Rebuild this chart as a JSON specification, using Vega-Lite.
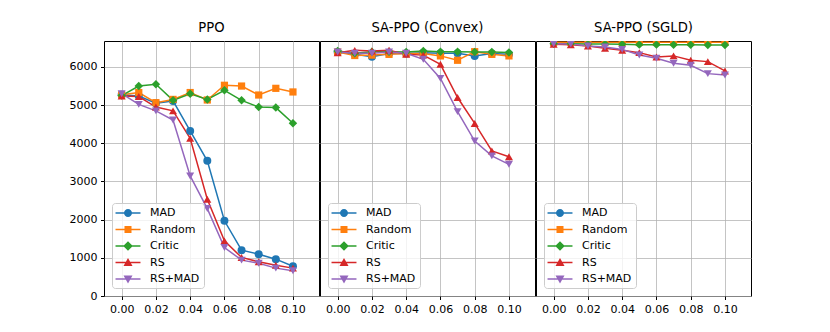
{
  "$schema": "https://vega.github.io/schema/vega-lite/v6.json",
  "padding": {"left": 68, "top": 20, "right": 5, "bottom": 5},
  "background": "white",
  "datasets": {
    "ppo": [
      {"s":"MAD","x":0,"y":5270},{"s":"MAD","x":0.01,"y":5240},{"s":"MAD","x":0.02,"y":5050},{"s":"MAD","x":0.03,"y":5110},{"s":"MAD","x":0.04,"y":4325},{"s":"MAD","x":0.05,"y":3540},{"s":"MAD","x":0.06,"y":1970},{"s":"MAD","x":0.07,"y":1200},{"s":"MAD","x":0.08,"y":1095},{"s":"MAD","x":0.09,"y":965},{"s":"MAD","x":0.1,"y":780},
      {"s":"Random","x":0,"y":5270},{"s":"Random","x":0.01,"y":5330},{"s":"Random","x":0.02,"y":5065},{"s":"Random","x":0.03,"y":5150},{"s":"Random","x":0.04,"y":5330},{"s":"Random","x":0.05,"y":5135},{"s":"Random","x":0.06,"y":5520},{"s":"Random","x":0.07,"y":5500},{"s":"Random","x":0.08,"y":5265},{"s":"Random","x":0.09,"y":5440},{"s":"Random","x":0.1,"y":5345},
      {"s":"Critic","x":0,"y":5250},{"s":"Critic","x":0.01,"y":5500},{"s":"Critic","x":0.02,"y":5545},{"s":"Critic","x":0.03,"y":5125},{"s":"Critic","x":0.04,"y":5300},{"s":"Critic","x":0.05,"y":5150},{"s":"Critic","x":0.06,"y":5390},{"s":"Critic","x":0.07,"y":5125},{"s":"Critic","x":0.08,"y":4950},{"s":"Critic","x":0.09,"y":4935},{"s":"Critic","x":0.1,"y":4525},
      {"s":"RS","x":0,"y":5240},{"s":"RS","x":0.01,"y":5225},{"s":"RS","x":0.02,"y":4950},{"s":"RS","x":0.03,"y":4850},{"s":"RS","x":0.04,"y":4130},{"s":"RS","x":0.05,"y":2535},{"s":"RS","x":0.06,"y":1445},{"s":"RS","x":0.07,"y":1010},{"s":"RS","x":0.08,"y":895},{"s":"RS","x":0.09,"y":805},{"s":"RS","x":0.1,"y":730},
      {"s":"RS+MAD","x":0,"y":5300},{"s":"RS+MAD","x":0.01,"y":5020},{"s":"RS+MAD","x":0.02,"y":4850},{"s":"RS+MAD","x":0.03,"y":4610},{"s":"RS+MAD","x":0.04,"y":3145},{"s":"RS+MAD","x":0.05,"y":2290},{"s":"RS+MAD","x":0.06,"y":1270},{"s":"RS+MAD","x":0.07,"y":940},{"s":"RS+MAD","x":0.08,"y":860},{"s":"RS+MAD","x":0.09,"y":730},{"s":"RS+MAD","x":0.1,"y":660}
    ],
    "convex": [
      {"s":"MAD","x":0,"y":6390},{"s":"MAD","x":0.01,"y":6330},{"s":"MAD","x":0.02,"y":6270},{"s":"MAD","x":0.03,"y":6350},{"s":"MAD","x":0.04,"y":6350},{"s":"MAD","x":0.05,"y":6370},{"s":"MAD","x":0.06,"y":6360},{"s":"MAD","x":0.07,"y":6360},{"s":"MAD","x":0.08,"y":6290},{"s":"MAD","x":0.09,"y":6350},{"s":"MAD","x":0.1,"y":6330},
      {"s":"Random","x":0,"y":6390},{"s":"Random","x":0.01,"y":6300},{"s":"Random","x":0.02,"y":6310},{"s":"Random","x":0.03,"y":6330},{"s":"Random","x":0.04,"y":6350},{"s":"Random","x":0.05,"y":6350},{"s":"Random","x":0.06,"y":6290},{"s":"Random","x":0.07,"y":6175},{"s":"Random","x":0.08,"y":6400},{"s":"Random","x":0.09,"y":6330},{"s":"Random","x":0.1,"y":6290},
      {"s":"Critic","x":0,"y":6420},{"s":"Critic","x":0.01,"y":6360},{"s":"Critic","x":0.02,"y":6400},{"s":"Critic","x":0.03,"y":6400},{"s":"Critic","x":0.04,"y":6390},{"s":"Critic","x":0.05,"y":6420},{"s":"Critic","x":0.06,"y":6400},{"s":"Critic","x":0.07,"y":6400},{"s":"Critic","x":0.08,"y":6390},{"s":"Critic","x":0.09,"y":6390},{"s":"Critic","x":0.1,"y":6380},
      {"s":"RS","x":0,"y":6370},{"s":"RS","x":0.01,"y":6435},{"s":"RS","x":0.02,"y":6420},{"s":"RS","x":0.03,"y":6440},{"s":"RS","x":0.04,"y":6330},{"s":"RS","x":0.05,"y":6310},{"s":"RS","x":0.06,"y":6070},{"s":"RS","x":0.07,"y":5200},{"s":"RS","x":0.08,"y":4520},{"s":"RS","x":0.09,"y":3800},{"s":"RS","x":0.1,"y":3650},
      {"s":"RS+MAD","x":0,"y":6390},{"s":"RS+MAD","x":0.01,"y":6360},{"s":"RS+MAD","x":0.02,"y":6360},{"s":"RS+MAD","x":0.03,"y":6390},{"s":"RS+MAD","x":0.04,"y":6360},{"s":"RS+MAD","x":0.05,"y":6200},{"s":"RS+MAD","x":0.06,"y":5700},{"s":"RS+MAD","x":0.07,"y":4830},{"s":"RS+MAD","x":0.08,"y":4060},{"s":"RS+MAD","x":0.09,"y":3670},{"s":"RS+MAD","x":0.1,"y":3450}
    ],
    "sgld": [
      {"s":"MAD","x":0,"y":6780},{"s":"MAD","x":0.01,"y":6780},{"s":"MAD","x":0.02,"y":6780},{"s":"MAD","x":0.03,"y":6780},{"s":"MAD","x":0.04,"y":6780},{"s":"MAD","x":0.05,"y":6780},{"s":"MAD","x":0.06,"y":6780},{"s":"MAD","x":0.07,"y":6780},{"s":"MAD","x":0.08,"y":6780},{"s":"MAD","x":0.09,"y":6780},{"s":"MAD","x":0.1,"y":6780},
      {"s":"Random","x":0,"y":6645},{"s":"Random","x":0.01,"y":6645},{"s":"Random","x":0.02,"y":6645},{"s":"Random","x":0.03,"y":6645},{"s":"Random","x":0.04,"y":6645},{"s":"Random","x":0.05,"y":6645},{"s":"Random","x":0.06,"y":6645},{"s":"Random","x":0.07,"y":6645},{"s":"Random","x":0.08,"y":6645},{"s":"Random","x":0.09,"y":6645},{"s":"Random","x":0.1,"y":6645},
      {"s":"Critic","x":0,"y":6610},{"s":"Critic","x":0.01,"y":6605},{"s":"Critic","x":0.02,"y":6600},{"s":"Critic","x":0.03,"y":6600},{"s":"Critic","x":0.04,"y":6595},{"s":"Critic","x":0.05,"y":6585},{"s":"Critic","x":0.06,"y":6585},{"s":"Critic","x":0.07,"y":6580},{"s":"Critic","x":0.08,"y":6580},{"s":"Critic","x":0.09,"y":6575},{"s":"Critic","x":0.1,"y":6575},
      {"s":"RS","x":0,"y":6595},{"s":"RS","x":0.01,"y":6580},{"s":"RS","x":0.02,"y":6550},{"s":"RS","x":0.03,"y":6490},{"s":"RS","x":0.04,"y":6435},{"s":"RS","x":0.05,"y":6375},{"s":"RS","x":0.06,"y":6260},{"s":"RS","x":0.07,"y":6290},{"s":"RS","x":0.08,"y":6175},{"s":"RS","x":0.09,"y":6140},{"s":"RS","x":0.1,"y":5895},
      {"s":"RS+MAD","x":0,"y":6610},{"s":"RS+MAD","x":0.01,"y":6600},{"s":"RS+MAD","x":0.02,"y":6550},{"s":"RS+MAD","x":0.03,"y":6525},{"s":"RS+MAD","x":0.04,"y":6460},{"s":"RS+MAD","x":0.05,"y":6315},{"s":"RS+MAD","x":0.06,"y":6230},{"s":"RS+MAD","x":0.07,"y":6095},{"s":"RS+MAD","x":0.08,"y":6045},{"s":"RS+MAD","x":0.09,"y":5825},{"s":"RS+MAD","x":0.1,"y":5790}
    ]
  },
  "spacing": -1,
  "hconcat": [
    {
      "width": 215, "height": 255,
      "title": "PPO",
      "data": {"name": "ppo"},
      "encoding": {
        "x": {"field": "x", "type": "quantitative", "scale": {"domain": [-0.0103, 0.1152], "nice": false, "zero": false}, "axis": {"values": [0, 0.02, 0.04, 0.06, 0.08, 0.1], "format": ".2f"}},
        "y": {"field": "y", "type": "quantitative", "scale": {"domain": [0, 6680], "nice": false}, "axis": {"values": [0, 1000, 2000, 3000, 4000, 5000, 6000], "format": "d"}}
      },
      "layer": [
        {"mark": {"type": "line", "strokeWidth": 1.5, "clip": true},
         "encoding": {"stroke": {"field": "s", "type": "nominal", "scale": {"domain": ["Critic","MAD","RS","RS+MAD","Random"], "range": ["#2ca02c","#1f77b4","#d62728","#9467bd","#ff7f0e"]}, "legend": null}}},
        {"transform": [{"filter": "datum.s === 'MAD'"}], "mark": {"type": "point", "shape": "circle", "filled": true, "fill": "#1f77b4", "size": 64, "opacity": 1, "clip": true}},
        {"transform": [{"filter": "datum.s === 'Random'"}], "mark": {"type": "point", "shape": "square", "filled": true, "fill": "#ff7f0e", "size": 52, "opacity": 1, "clip": true}},
        {"transform": [{"filter": "datum.s === 'Critic'"}], "mark": {"type": "point", "shape": "diamond", "filled": true, "fill": "#2ca02c", "size": 72, "opacity": 1, "clip": true}},
        {"transform": [{"filter": "datum.s === 'RS'"}], "mark": {"type": "point", "shape": "triangle-up", "filled": true, "fill": "#d62728", "size": 64, "opacity": 1, "clip": true}},
        {"transform": [{"filter": "datum.s === 'RS+MAD'"}], "mark": {"type": "point", "shape": "triangle-down", "filled": true, "fill": "#9467bd", "size": 64, "opacity": 1, "clip": true}},
        {"transform": [{"filter": "false"}], "mark": {"type": "point", "filled": true, "size": 144, "opacity": 1, "clip": true},
         "encoding": {
           "fill": {"field": "s", "type": "nominal", "scale": {"domain": ["MAD","Random","Critic","RS","RS+MAD"], "range": ["#1f77b4","#ff7f0e","#2ca02c","#d62728","#9467bd"]},
             "legend": {"orient": "bottom-left", "offset": 8, "title": null, "symbolSize": 144, "symbolStrokeWidth": 0, "symbolOffset": 6, "labelOffset": 16, "rowPadding": 5.5, "padding": 4}},
           "shape": {"field": "s", "type": "nominal", "scale": {"domain": ["MAD","Random","Critic","RS","RS+MAD"], "range": [
             "M-2.08,-0.125L2.08,-0.125L2.08,0.125L-2.08,0.125ZM0,-0.667A0.667,0.667 0 1,1 0,0.667A0.667,0.667 0 1,1 0,-0.667Z",
             "M-2.08,-0.125L2.08,-0.125L2.08,0.125L-2.08,0.125ZM-0.583,-0.583L0.583,-0.583L0.583,0.583L-0.583,0.583Z",
             "M-2.08,-0.125L2.08,-0.125L2.08,0.125L-2.08,0.125ZM0,-0.8L0.8,0L0,0.8L-0.8,0Z",
             "M-2.08,-0.125L2.08,-0.125L2.08,0.125L-2.08,0.125ZM0,-0.75L0.75,0.583L-0.75,0.583Z",
             "M-2.08,-0.125L2.08,-0.125L2.08,0.125L-2.08,0.125ZM-0.75,-0.583L0.75,-0.583L0,0.75Z"]},
             "legend": {"orient": "bottom-left", "offset": 8, "title": null, "symbolSize": 144, "symbolStrokeWidth": 0, "symbolOffset": 6, "labelOffset": 16, "rowPadding": 5.5, "padding": 4}}
         }}
      ]
    },
    {
      "width": 215, "height": 255,
      "title": "SA-PPO (Convex)",
      "data": {"name": "convex"},
      "encoding": {
        "x": {"field": "x", "type": "quantitative", "scale": {"domain": [-0.0103, 0.1152], "nice": false, "zero": false}, "axis": {"values": [0, 0.02, 0.04, 0.06, 0.08, 0.1], "format": ".2f"}},
        "y": {"field": "y", "type": "quantitative", "scale": {"domain": [0, 6680], "nice": false}, "axis": {"values": [0, 1000, 2000, 3000, 4000, 5000, 6000], "labels": false, "ticks": false, "domain": false, "minExtent": 0, "maxExtent": 0, "labelPadding": 0, "tickSize": 0}}
      },
      "layer": [
        {"mark": {"type": "line", "strokeWidth": 1.5, "clip": true},
         "encoding": {"stroke": {"field": "s", "type": "nominal", "scale": {"domain": ["Critic","MAD","RS","RS+MAD","Random"], "range": ["#2ca02c","#1f77b4","#d62728","#9467bd","#ff7f0e"]}, "legend": null}}},
        {"transform": [{"filter": "datum.s === 'MAD'"}], "mark": {"type": "point", "shape": "circle", "filled": true, "fill": "#1f77b4", "size": 64, "opacity": 1, "clip": true}},
        {"transform": [{"filter": "datum.s === 'Random'"}], "mark": {"type": "point", "shape": "square", "filled": true, "fill": "#ff7f0e", "size": 52, "opacity": 1, "clip": true}},
        {"transform": [{"filter": "datum.s === 'Critic'"}], "mark": {"type": "point", "shape": "diamond", "filled": true, "fill": "#2ca02c", "size": 72, "opacity": 1, "clip": true}},
        {"transform": [{"filter": "datum.s === 'RS'"}], "mark": {"type": "point", "shape": "triangle-up", "filled": true, "fill": "#d62728", "size": 64, "opacity": 1, "clip": true}},
        {"transform": [{"filter": "datum.s === 'RS+MAD'"}], "mark": {"type": "point", "shape": "triangle-down", "filled": true, "fill": "#9467bd", "size": 64, "opacity": 1, "clip": true}},
        {"transform": [{"filter": "false"}], "mark": {"type": "point", "filled": true, "size": 144, "opacity": 1, "clip": true},
         "encoding": {
           "fill": {"field": "s", "type": "nominal", "scale": {"domain": ["MAD","Random","Critic","RS","RS+MAD"], "range": ["#1f77b4","#ff7f0e","#2ca02c","#d62728","#9467bd"]},
             "legend": {"orient": "bottom-left", "offset": 8, "title": null, "symbolSize": 144, "symbolStrokeWidth": 0, "symbolOffset": 6, "labelOffset": 16, "rowPadding": 5.5, "padding": 4}},
           "shape": {"field": "s", "type": "nominal", "scale": {"domain": ["MAD","Random","Critic","RS","RS+MAD"], "range": [
             "M-2.08,-0.125L2.08,-0.125L2.08,0.125L-2.08,0.125ZM0,-0.667A0.667,0.667 0 1,1 0,0.667A0.667,0.667 0 1,1 0,-0.667Z",
             "M-2.08,-0.125L2.08,-0.125L2.08,0.125L-2.08,0.125ZM-0.583,-0.583L0.583,-0.583L0.583,0.583L-0.583,0.583Z",
             "M-2.08,-0.125L2.08,-0.125L2.08,0.125L-2.08,0.125ZM0,-0.8L0.8,0L0,0.8L-0.8,0Z",
             "M-2.08,-0.125L2.08,-0.125L2.08,0.125L-2.08,0.125ZM0,-0.75L0.75,0.583L-0.75,0.583Z",
             "M-2.08,-0.125L2.08,-0.125L2.08,0.125L-2.08,0.125ZM-0.75,-0.583L0.75,-0.583L0,0.75Z"]},
             "legend": {"orient": "bottom-left", "offset": 8, "title": null, "symbolSize": 144, "symbolStrokeWidth": 0, "symbolOffset": 6, "labelOffset": 16, "rowPadding": 5.5, "padding": 4}}
         }}
      ]
    },
    {
      "width": 215, "height": 255,
      "title": "SA-PPO (SGLD)",
      "data": {"name": "sgld"},
      "encoding": {
        "x": {"field": "x", "type": "quantitative", "scale": {"domain": [-0.0103, 0.1152], "nice": false, "zero": false}, "axis": {"values": [0, 0.02, 0.04, 0.06, 0.08, 0.1], "format": ".2f"}},
        "y": {"field": "y", "type": "quantitative", "scale": {"domain": [0, 6680], "nice": false}, "axis": {"values": [0, 1000, 2000, 3000, 4000, 5000, 6000], "labels": false, "ticks": false, "domain": false, "minExtent": 0, "maxExtent": 0, "labelPadding": 0, "tickSize": 0}}
      },
      "layer": [
        {"mark": {"type": "line", "strokeWidth": 1.5, "clip": true},
         "encoding": {"stroke": {"field": "s", "type": "nominal", "scale": {"domain": ["Critic","MAD","RS","RS+MAD","Random"], "range": ["#2ca02c","#1f77b4","#d62728","#9467bd","#ff7f0e"]}, "legend": null}}},
        {"transform": [{"filter": "datum.s === 'MAD'"}], "mark": {"type": "point", "shape": "circle", "filled": true, "fill": "#1f77b4", "size": 64, "opacity": 1, "clip": true}},
        {"transform": [{"filter": "datum.s === 'Random'"}], "mark": {"type": "point", "shape": "square", "filled": true, "fill": "#ff7f0e", "size": 52, "opacity": 1, "clip": true}},
        {"transform": [{"filter": "datum.s === 'Critic'"}], "mark": {"type": "point", "shape": "diamond", "filled": true, "fill": "#2ca02c", "size": 72, "opacity": 1, "clip": true}},
        {"transform": [{"filter": "datum.s === 'RS'"}], "mark": {"type": "point", "shape": "triangle-up", "filled": true, "fill": "#d62728", "size": 64, "opacity": 1, "clip": true}},
        {"transform": [{"filter": "datum.s === 'RS+MAD'"}], "mark": {"type": "point", "shape": "triangle-down", "filled": true, "fill": "#9467bd", "size": 64, "opacity": 1, "clip": true}},
        {"transform": [{"filter": "false"}], "mark": {"type": "point", "filled": true, "size": 144, "opacity": 1, "clip": true},
         "encoding": {
           "fill": {"field": "s", "type": "nominal", "scale": {"domain": ["MAD","Random","Critic","RS","RS+MAD"], "range": ["#1f77b4","#ff7f0e","#2ca02c","#d62728","#9467bd"]},
             "legend": {"orient": "bottom-left", "offset": 8, "title": null, "symbolSize": 144, "symbolStrokeWidth": 0, "symbolOffset": 6, "labelOffset": 16, "rowPadding": 5.5, "padding": 4}},
           "shape": {"field": "s", "type": "nominal", "scale": {"domain": ["MAD","Random","Critic","RS","RS+MAD"], "range": [
             "M-2.08,-0.125L2.08,-0.125L2.08,0.125L-2.08,0.125ZM0,-0.667A0.667,0.667 0 1,1 0,0.667A0.667,0.667 0 1,1 0,-0.667Z",
             "M-2.08,-0.125L2.08,-0.125L2.08,0.125L-2.08,0.125ZM-0.583,-0.583L0.583,-0.583L0.583,0.583L-0.583,0.583Z",
             "M-2.08,-0.125L2.08,-0.125L2.08,0.125L-2.08,0.125ZM0,-0.8L0.8,0L0,0.8L-0.8,0Z",
             "M-2.08,-0.125L2.08,-0.125L2.08,0.125L-2.08,0.125ZM0,-0.75L0.75,0.583L-0.75,0.583Z",
             "M-2.08,-0.125L2.08,-0.125L2.08,0.125L-2.08,0.125ZM-0.75,-0.583L0.75,-0.583L0,0.75Z"]},
             "legend": {"orient": "bottom-left", "offset": 8, "title": null, "symbolSize": 144, "symbolStrokeWidth": 0, "symbolOffset": 6, "labelOffset": 16, "rowPadding": 5.5, "padding": 4}}
         }}
      ]
    }
  ],
  "resolve": {
    "scale": {"stroke": "independent", "fill": "independent", "shape": "independent"},
    "legend": {"stroke": "independent", "fill": "independent", "shape": "independent"}
  },
  "config": {
    "font": "DejaVu Sans",
    "view": {"stroke": "black", "strokeWidth": 1},
    "title": {"font": "DejaVu Sans", "fontSize": 13.2, "fontWeight": "normal", "color": "black", "offset": 6, "anchor": "middle"},
    "axis": {"title": null, "labelFont": "DejaVu Sans", "labelFontSize": 11, "labelColor": "black", "tickColor": "black", "tickSize": 3.5, "tickWidth": 1, "labelPadding": 3.5, "domain": false, "gridColor": "#b0b0b0", "gridOpacity": 0.75, "gridWidth": 1, "labelFlush": false},
    "legend": {"labelFont": "DejaVu Sans", "labelFontSize": 11, "labelColor": "black", "fillColor": "rgba(255,255,255,0.8)", "strokeColor": "#cccccc", "cornerRadius": 3}
  }
}
